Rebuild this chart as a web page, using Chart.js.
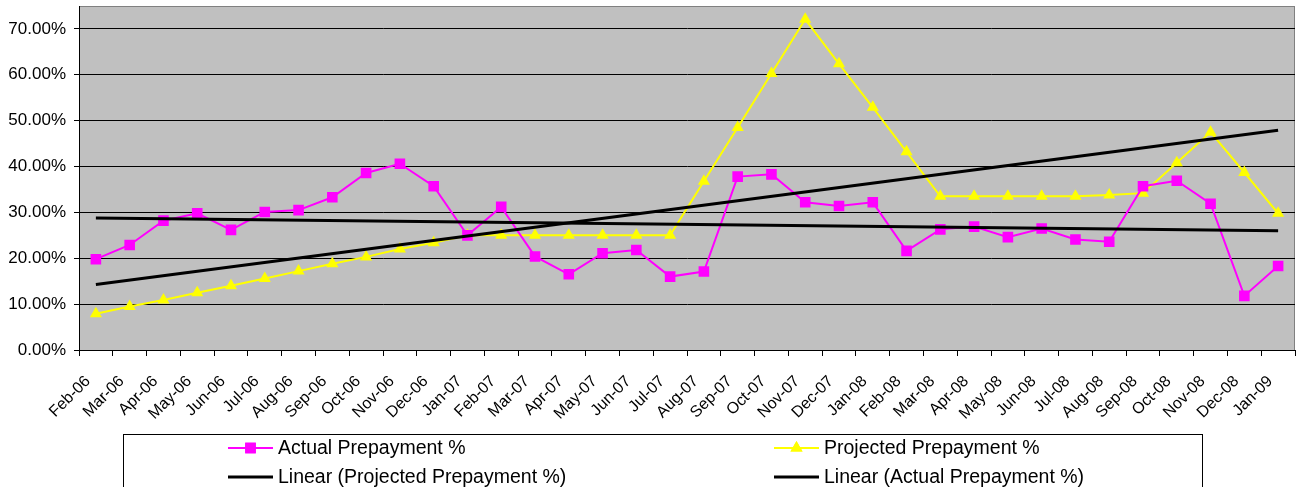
<!DOCTYPE html>
<html>
<head>
<meta charset="utf-8">
<script src="https://cdn.jsdelivr.net/npm/chart.js@4.4.1/dist/chart.umd.min.js"></script>
<style>
  html, body { margin: 0; padding: 0; background: #fff; }
</style>
</head>
<body>
<canvas id="prepayChart" width="1299" height="487"></canvas>
<script>
// values (percent)
const months = [
  "Feb-06", "Mar-06", "Apr-06", "May-06", "Jun-06", "Jul-06", "Aug-06", "Sep-06", "Oct-06", "Nov-06", "Dec-06",
  "Jan-07", "Feb-07", "Mar-07", "Apr-07", "May-07", "Jun-07", "Jul-07", "Aug-07", "Sep-07", "Oct-07", "Nov-07", "Dec-07",
  "Jan-08", "Feb-08", "Mar-08", "Apr-08", "May-08", "Jun-08", "Jul-08", "Aug-08", "Sep-08", "Oct-08", "Nov-08", "Dec-08",
  "Jan-09"
];

const actualPrepayment = [
  19.8, 22.9, 28.2, 29.8, 26.2, 30.1, 30.5, 33.3, 38.6, 40.6, 35.7,
  25.0, 31.2, 20.4, 16.5, 21.1, 21.8, 16.0, 17.1, 37.8, 38.3, 32.2, 31.4,
  32.2, 21.6, 26.3, 26.9, 24.6, 26.5, 24.1, 23.6, 35.7, 36.9, 31.9, 11.8,
  18.3
];

const projectedPrepayment = [
  7.9, 9.5, 10.9, 12.5, 14.0, 15.6, 17.2, 18.8, 20.3, 22.0, 23.4,
  25.0, 25.0, 25.0, 25.0, 25.0, 25.0, 25.0, 36.8, 48.5, 60.3, 72.1, 62.4,
  52.9, 43.2, 33.5, 33.5, 33.5, 33.5, 33.5, 33.8, 34.2, 40.8, 47.5, 38.7,
  29.8
];

// trend line ends, read at the first and last month
const trendProjectedEnds = [14.3, 47.9];
const trendActualEnds = [28.8, 26.0];

const yMin = 0;
const yMax = 75;
const yStep = 10;
const yLastLabel = 70;

const MAGENTA = "#FF00FF";
const YELLOW = "#FFFF00";
const FONT = "'Liberation Sans', Arial, sans-serif";

function trendPoints(ends) {
  return [
    { x: months[0], y: ends[0] },
    { x: months[months.length - 1], y: ends[1] }
  ];
}

// grey plot area with a thin grey frame, like the spreadsheet chart
const plotAreaPlugin = {
  id: "plotArea",
  beforeDraw(chart) {
    const { ctx, chartArea: a } = chart;
    ctx.save();
    ctx.fillStyle = "#C0C0C0";
    ctx.fillRect(a.left, a.top, a.right - a.left, a.bottom - a.top);
    ctx.strokeStyle = "#808080";
    ctx.lineWidth = 1;
    ctx.strokeRect(a.left + 0.5, a.top + 0.5, a.right - a.left - 1, a.bottom - a.top);
    ctx.restore();
  }
};

// two column boxed legend below the axis
const boxedLegendPlugin = {
  id: "boxedLegend",
  afterDraw(chart) {
    const ctx = chart.ctx;
    const ds = chart.data.datasets;
    // legend order: row 1 -> actual, projected ; row 2 -> linear(projected), linear(actual)
    const order = [2, 3, 0, 1];
    const cols = [228, 774];
    const rows = [448, 477];
    ctx.save();
    ctx.strokeStyle = "#000";
    ctx.lineWidth = 1;
    ctx.strokeRect(123.5, 434.5, 1079, 80);
    ctx.font = "19.5px " + FONT;
    ctx.textBaseline = "middle";
    order.forEach((idx, i) => {
      const d = ds[idx];
      const x = cols[i % 2];
      const y = rows[Math.floor(i / 2)];
      ctx.strokeStyle = d.borderColor;
      ctx.lineWidth = d.borderWidth;
      ctx.beginPath();
      ctx.moveTo(x, y);
      ctx.lineTo(x + 45, y);
      ctx.stroke();
      if (d.pointRadius > 0) {
        ctx.fillStyle = d.pointBackgroundColor;
        Chart.helpers.drawPoint(ctx, {
          pointStyle: d.pointStyle,
          radius: d.pointRadius,
          borderWidth: 0,
          rotation: 0
        }, x + 22.5, y);
        ctx.fill();
      }
      ctx.fillStyle = "#000";
      ctx.fillText(d.label, x + 50, y + 1);
    });
    ctx.restore();
  }
};

function initPrepayChart() {
  const el = document.getElementById("prepayChart");
  if (!el) {
    console.error("prepayChart canvas not found");
    return;
  }

  new Chart(el.getContext("2d"), {
    type: "line",
    data: {
      labels: months,
      datasets: [
        {
          label: "Linear (Projected Prepayment %)",
          data: trendPoints(trendProjectedEnds),
          borderColor: "#000",
          borderWidth: 3,
          pointRadius: 0,
          fill: false
        },
        {
          label: "Linear (Actual Prepayment %)",
          data: trendPoints(trendActualEnds),
          borderColor: "#000",
          borderWidth: 3,
          pointRadius: 0,
          fill: false
        },
        {
          label: "Actual Prepayment %",
          data: actualPrepayment,
          borderColor: MAGENTA,
          borderWidth: 2,
          pointStyle: "rect",
          pointRadius: 7.5,
          pointBackgroundColor: MAGENTA,
          pointBorderWidth: 0,
          fill: false
        },
        {
          label: "Projected Prepayment %",
          data: projectedPrepayment,
          borderColor: YELLOW,
          borderWidth: 2,
          pointStyle: "triangle",
          pointRadius: 7,
          pointBackgroundColor: YELLOW,
          pointBorderWidth: 0,
          fill: false
        }
      ]
    },
    options: {
      responsive: false,
      animation: false,
      layout: { autoPadding: false, padding: { top: 6, right: 4, left: 0, bottom: 0 } },
      elements: { line: { tension: 0 } },
      plugins: {
        legend: { display: false },
        tooltip: { enabled: false }
      },
      scales: {
        x: {
          type: "category",
          offset: true,
          grid: {
            offset: true,
            drawOnChartArea: false,
            drawTicks: true,
            tickLength: 6,
            color: "#000"
          },
          border: { color: "#000", width: 1 },
          ticks: {
            autoSkip: false,
            minRotation: 45,
            maxRotation: 45,
            color: "#000",
            padding: 16,
            labelOffset: -8,
            font: { family: FONT, size: 16 }
          },
          afterFit(scale) {
            scale.height = 137;
            scale.paddingLeft = 0;
            scale.paddingRight = 0;
          }
        },
        y: {
          min: yMin,
          max: yMax,
          grid: {
            color: "#000",
            lineWidth: 1,
            tickLength: 5
          },
          border: { color: "#000", width: 1 },
          ticks: {
            stepSize: yStep,
            color: "#000",
            padding: 8,
            font: { family: FONT, size: 17 },
            callback: v => v.toFixed(2) + "%"
          },
          afterBuildTicks(scale) {
            scale.ticks = scale.ticks.filter(t => t.value <= yLastLabel);
          },
          afterFit(scale) {
            scale.width = 79;
            scale.paddingTop = 0;
            scale.paddingBottom = 0;
          }
        }
      }
    },
    plugins: [plotAreaPlugin, boxedLegendPlugin]
  });
}

document.addEventListener("DOMContentLoaded", () => {
  initPrepayChart();
});
</script>
</body>
</html>
